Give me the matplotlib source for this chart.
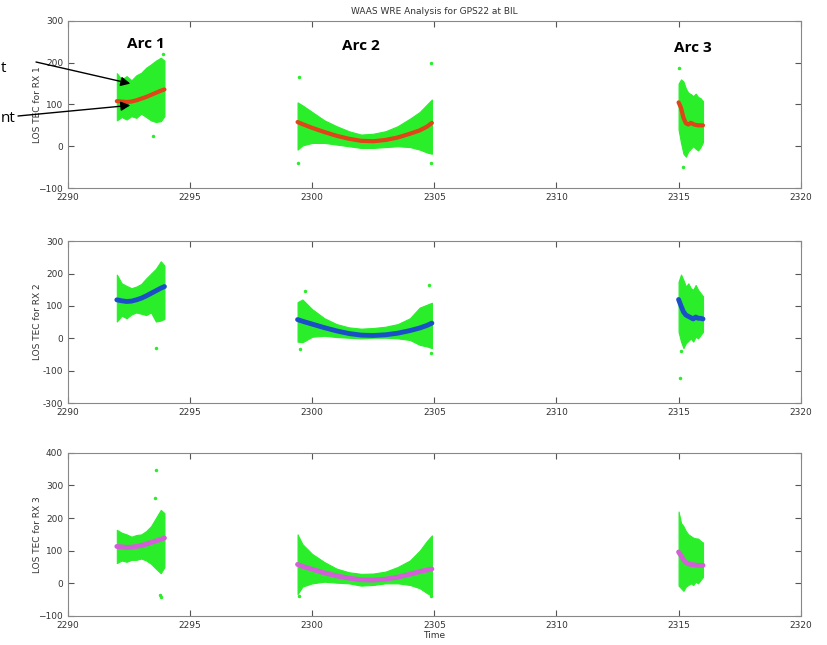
import numpy as np
import matplotlib.pyplot as plt

# sample times for the three satellite arcs
t1 = [2292.0, 2292.2, 2292.4, 2292.6, 2292.8, 2293.0, 2293.2, 2293.4, 2293.6, 2293.8, 2293.95]
t2 = [2299.4, 2299.6, 2300.0, 2300.5, 2301.0, 2301.5, 2302.0, 2302.5, 2303.0, 2303.5, 2304.0, 2304.4, 2304.7, 2304.9]
t3 = [2315.0, 2315.1, 2315.2, 2315.3, 2315.4, 2315.5, 2315.6, 2315.7, 2315.8, 2315.9, 2316.0]

# RX 1: fitted curve and spread (upper/lower) of raw measurements
rx1_fit = [[108, 107, 106, 107, 110, 114, 118, 123, 128, 133, 136],
           [58, 53, 44, 34, 25, 18, 13, 12, 15, 21, 30, 38, 47, 56],
           [105, 92, 68, 55, 52, 56, 53, 51, 50, 50, 50]]
rx1_hi = [[175, 160, 168, 158, 170, 176, 188, 196, 205, 212, 205],
          [105, 98, 82, 62, 48, 36, 28, 30, 36, 48, 66, 82, 100, 112],
          [150, 160, 155, 138, 128, 125, 120, 126, 118, 115, 108]]
rx1_lo = [[62, 70, 64, 72, 68, 78, 70, 62, 58, 60, 72],
          [-8, 2, 8, 8, 4, 0, -4, -4, -2, 0, -2, -8, -15, -18],
          [40, 8, -18, -25, -12, -6, 0, -6, -10, -2, 10]]
rx1_out_t = [2293.5, 2293.9, 2299.45, 2299.42, 2304.88, 2304.85, 2315.0, 2315.2]
rx1_out_v = [25, 220, 165, -40, 200, -40, 187, -50]

# RX 2
rx2_fit = [[119, 116, 114, 115, 119, 124, 131, 139, 147, 155, 160],
           [58, 53, 44, 33, 23, 15, 10, 9, 11, 16, 24, 32, 40, 47],
           [120, 100, 82, 72, 68, 64, 60, 66, 62, 62, 60]]
rx2_hi = [[197, 170, 162, 155, 160, 168, 185, 200, 215, 238, 225],
          [112, 120, 90, 62, 44, 34, 30, 32, 36, 44, 62, 95, 104, 110],
          [175, 197, 180, 160, 170, 155, 150, 165, 150, 140, 130]]
rx2_lo = [[52, 70, 62, 74, 80, 76, 72, 80, 52, 55, 60],
          [-10, -12, 5, 8, 4, 2, 0, 2, 2, 0, -5, -20, -25, -30],
          [20, -10, -30, -15, -8, 0, -10, 5, 0, 10, 20]]
rx2_out_t = [2293.6, 2299.7, 2304.8, 2304.85, 2299.5, 2315.1, 2315.05]
rx2_out_v = [-30, 145, 166, -45, -34, -40, -122]

# RX 3
rx3_fit = [[113, 112, 110, 111, 113, 116, 120, 125, 130, 135, 139],
           [58, 52, 43, 32, 23, 16, 11, 10, 13, 19, 28, 36, 41, 44],
           [96, 85, 72, 64, 60, 58, 57, 56, 55, 55, 55]]
rx3_hi = [[164, 155, 150, 143, 148, 150, 160, 175, 200, 225, 215],
          [150, 120, 90, 65, 45, 34, 29, 30, 36, 50, 70, 100, 130, 147],
          [220, 185, 175, 160, 150, 145, 140, 138, 137, 130, 125]]
rx3_lo = [[62, 70, 66, 72, 72, 76, 70, 60, 45, 31, 50],
          [-33, -10, 0, 5, 2, 0, -7, -5, 0, 0, -5, -15, -30, -38],
          [-7, -15, -23, -10, -5, 0, -5, 5, 0, 10, 20]]
rx3_out_t = [2293.6, 2293.55, 2293.8, 2293.75, 2299.45, 2304.85]
rx3_out_v = [348, 262, -41, -35, -38, -38]

arc_t = [t1, t2, t3]
panels = [
    (rx1_fit, rx1_hi, rx1_lo, rx1_out_t, rx1_out_v, '#e04418', 3.0,
     'LOS TEC for RX 1', (-100, 300), [-100, 0, 100, 200, 300], None),
    (rx2_fit, rx2_hi, rx2_lo, rx2_out_t, rx2_out_v, '#1a4fc8', 3.5,
     'LOS TEC for RX 2', (-200, 300), [-200, -100, 0, 100, 200, 300],
     ['-300', '-100', '0', '100', '200', '300']),
    (rx3_fit, rx3_hi, rx3_lo, rx3_out_t, rx3_out_v, '#d45ed8', 3.5,
     'LOS TEC for RX 3', (-100, 400), [-100, 0, 100, 200, 300, 400], None),
]
green = '#2aee2a'

fig = plt.figure(figsize=(8.27, 6.45), dpi=100)
rects = [[0.0822, 0.7085, 0.886, 0.259],
         [0.0822, 0.375, 0.886, 0.251],
         [0.0822, 0.045, 0.886, 0.253]]

axes = []
for rect, p in zip(rects, panels):
    fit, hi, lo, ot, ov, col, lw, ylab, ylim, yt, ytl = p
    ax = fig.add_axes(rect)
    for t, h, l in zip(arc_t, hi, lo):
        ax.fill_between(t, l, h, color=green, lw=0.8, edgecolor=green)
    ax.plot(ot, ov, '.', color=green, ms=3)
    for t, f in zip(arc_t, fit):
        ax.plot(t, f, '-', color=col, lw=lw, solid_capstyle='round')
    ax.set_xlim(2290, 2320)
    ax.set_ylim(*ylim)
    ax.set_xticks(np.arange(2290, 2321, 5))
    ax.set_yticks(yt)
    if ytl:
        ax.set_yticklabels(ytl)
    ax.tick_params(direction='in', top=True, right=True, length=4,
                   labelsize=6.5, colors='#555555', labelcolor='#333333')
    for s in ax.spines.values():
        s.set_color('#888888')
    ax.set_ylabel(ylab, fontsize=6.5, color='#333333')
    ax.yaxis.set_label_coords(-0.036, 0.5)
    axes.append(ax)

axes[0].set_title('WAAS WRE Analysis for GPS22 at BIL', fontsize=6.5,
                  color='#333333', pad=5)
axes[2].set_xlabel('Time', fontsize=6.5, color='#333333', labelpad=1)

# arc labels
for x, y, s in [(2293.2, 245, 'Arc 1'), (2302.0, 240, 'Arc 2'), (2315.6, 235, 'Arc 3')]:
    axes[0].text(x, y, s, fontsize=11, fontweight='bold', family='Open Sans',
                 ha='center', va='center')

# label fragments visible at the left edge, with their arrows
fig.text(1 / 827, 1 - 68 / 645, 't', fontsize=11,
         family='Open Sans', ha='left', va='center')
fig.text(1 / 827, 1 - 118 / 645, 'nt', fontsize=11,
         family='Open Sans', ha='left', va='center')
arrow = dict(arrowstyle='-|>', color='black', lw=1, mutation_scale=14,
             shrinkA=0, shrinkB=0)
axes[0].annotate('', xy=(2292.55, 150), xytext=(36 / 827, 1 - 62 / 645),
                 textcoords='figure fraction', arrowprops=arrow)
axes[0].annotate('', xy=(2292.55, 98), xytext=(18 / 827, 1 - 116 / 645),
                 textcoords='figure fraction', arrowprops=arrow)

fig.savefig('out.png', dpi=100)
